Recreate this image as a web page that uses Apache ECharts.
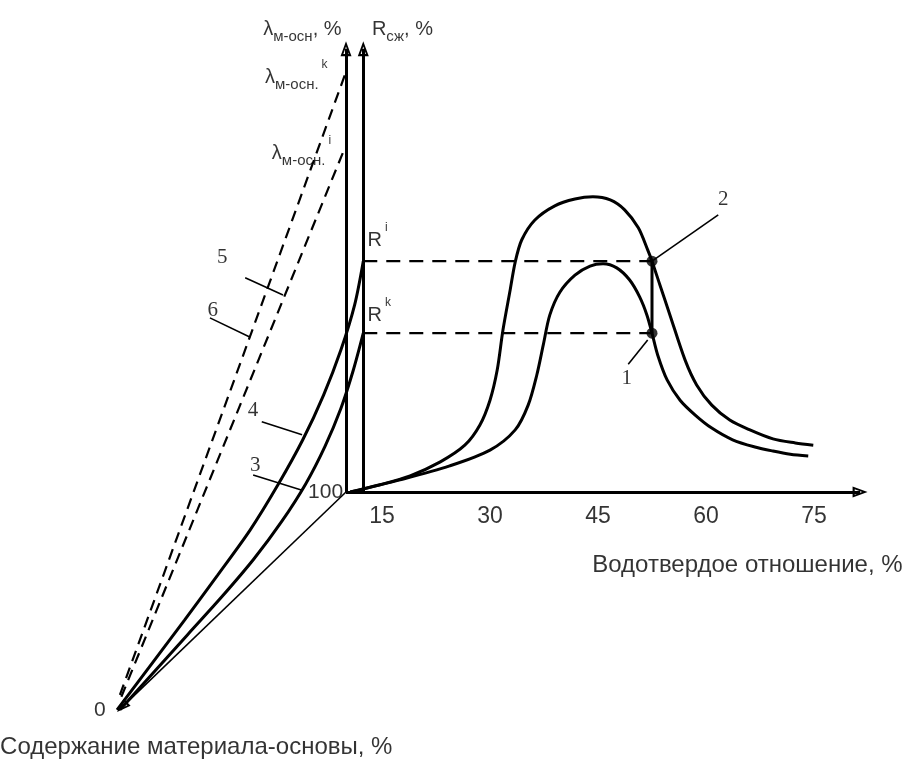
<!DOCTYPE html>
<html>
<head>
<meta charset="utf-8">
<script src="https://cdn.jsdelivr.net/npm/echarts@6/dist/echarts.min.js"></script>
<style>
html, body { margin: 0; padding: 0; background: #fff; }
#chart { width: 905px; height: 760px; }
</style>
</head>
<body>
<div id="chart"></div>
<script>
// подписи оси водотвердого отношения
var ratioTicks = [15, 30, 45, 60, 75];

// кривая 2 (внешняя) : [В/Т, R]
var strengthOuter = [[10.6,0],[14.7,1.6],[18.9,3.6],[23.1,6.7],[26.5,10.4],[28.6,14.9],[30.0,20.4],[31.0,27.1],
    [31.8,36.0],[32.8,44.9],[33.5,51.1],[34.4,56.0],[36.2,60.4],[39.0,63.6],[41.8,65.1],[44.3,65.6],[46.7,64.9],
    [48.7,62.7],[50.6,58.7],[51.9,53.8],[52.5,51.3],[53.6,46.0],[55.0,39.3],[57.1,29.3],[58.7,23.8],[60.8,19.3],
    [63.3,16.0],[66.1,13.8],[69.3,11.8],[72.4,10.9],[74.9,10.4]];
// кривая 1 (внутренняя)
var strengthInner = [[10.6,0],[17.5,2.7],[24.4,5.8],[30.0,9.3],[33.5,13.8],[35.3,19.3],[36.5,26.0],[37.4,32.7],
    [38.3,39.3],[39.7,44.4],[41.8,48.2],[43.9,50.2],[45.7,50.7],[47.6,49.8],[49.4,47.1],[50.8,43.3],[51.8,39.3],
    [52.5,35.3],[53.3,30.4],[54.6,24.9],[56.4,20.4],[58.5,17.1],[60.8,14.2],[63.7,11.6],[66.8,10.0],[69.3,9.1],
    [71.7,8.4],[74.2,8.0]];
// кривые 3 и 4 (содержание материала-основы)
var curve3 = [[-21.4,-48.4],[-12.0,-31.7],[-7.25,-23.3],[-2.8,-14.9],[1.05,-6.6],[4.4,1.8],[7.1,10.2],
    [9.3,18.6],[11.0,27.0],[12.4,35.3]];
var curve4 = [[-21.8,-48.4],[-12.4,-28.4],[-7.8,-18.4],[-3.3,-8.4],[0.55,1.6],[4.0,11.6],[6.9,21.6],
    [9.3,31.6],[11.2,41.6],[12.4,51.3]];
// штриховые прямые 5 и 6
var line5 = [[-21.2,-45.5],[9.9,76.7]];
var line6 = [[-21.4,-45.1],[10.1,93.8]];
// уровни прочности R^i, R^k и точка пересечения
var levelRi = 51.3;
var levelRk = 35.3;
var crossX = 52.5;

var ink = '#000';
var arrowPath = 'path://M5,0L10,14L0,14Z M5,5L2.6,12L7.4,12Z';
var sans = 'Liberation Sans';
var serif = 'Liberation Serif';

function seg(a, b) {
    return [{ coord: a }, { coord: b }];
}

function lbl(x, y, text, pos, extra) {
    var l = {
        show: true,
        position: pos || 'inside',
        distance: 0,
        formatter: text,
        color: '#000',
        fontFamily: sans,
        fontSize: 21
    };
    for (var k in extra) l[k] = extra[k];
    return { value: [x, y], label: l };
}

var richSub = {
    a: { fontFamily: sans, fontSize: 20, color: '#000', lineHeight: 22 },
    r: { fontFamily: sans, fontSize: 20, color: '#000', lineHeight: 22 },
    s: { fontFamily: sans, fontSize: 15, color: '#000', lineHeight: 14, verticalAlign: 'bottom', padding: [0, 0, -4, 0] },
    p: { fontFamily: sans, fontSize: 12, color: '#000', lineHeight: 12, verticalAlign: 'top', padding: [-7, 0, 0, 3] }
};

var chart = echarts.init(document.getElementById('chart'));

var option = {
    backgroundColor: '#fff',
    animation: false,
    grid: {
        left: 22,
        right: 19,
        top: 24,
        bottom: 7,
        containLabel: false,
        outerBoundsMode: 'none'
    },
    xAxis: {
        type: 'value',
        min: -35,
        max: 85,
        show: false
    },
    yAxis: {
        type: 'value',
        min: -58,
        max: 104,
        show: false
    },
    series: [{
        name: 'кривая 2',
        type: 'line',
        smooth: 0.3,
        symbol: 'none',
        lineStyle: { color: ink, width: 3 },
        data: strengthOuter
    }, {
        name: 'кривая 1',
        type: 'line',
        smooth: 0.3,
        symbol: 'none',
        lineStyle: { color: ink, width: 3 },
        data: strengthInner
    }, {
        name: 'кривая 3',
        type: 'line',
        smooth: 0.3,
        symbol: 'none',
        lineStyle: { color: ink, width: 3 },
        data: curve3
    }, {
        name: 'кривая 4',
        type: 'line',
        smooth: 0.3,
        symbol: 'none',
        lineStyle: { color: ink, width: 3 },
        data: curve4
    }, {
        name: 'прямая 5',
        type: 'line',
        symbol: 'none',
        lineStyle: { color: ink, width: 2.2, type: [11, 7] },
        data: line5
    }, {
        name: 'прямая 6',
        type: 'line',
        symbol: 'none',
        lineStyle: { color: ink, width: 2.2, type: [11, 7] },
        data: line6
    }, {
        name: 'Ri',
        type: 'line',
        symbol: 'none',
        lineStyle: { color: ink, width: 2.2, type: [14, 9] },
        data: [[12.4, levelRi], [crossX, levelRi]]
    }, {
        name: 'Rk',
        type: 'line',
        symbol: 'none',
        lineStyle: { color: ink, width: 2.2, type: [14, 9] },
        data: [[12.4, levelRk], [crossX, levelRk]]
    }, {
        name: 'переход',
        type: 'line',
        symbol: 'none',
        lineStyle: { color: ink, width: 3 },
        data: [[crossX, levelRk], [crossX, levelRi]]
    }, {
        name: 'точки',
        type: 'scatter',
        symbolSize: 11,
        itemStyle: { color: ink },
        data: [[crossX, levelRi], [crossX, levelRk]]
    }, {
        // оси со стрелками
        name: 'оси',
        type: 'line',
        symbol: 'none',
        lineStyle: { opacity: 0 },
        data: [[10, 0], [10, 99]],
        markLine: {
            silent: true,
            symbol: ['none', arrowPath],
            symbolSize: [11, 15],
            label: { show: false },
            lineStyle: { color: ink, width: 3, type: 'solid' },
            data: [
                seg([10, 0], [10, 98.5]),
                seg([12.4, 0], [12.4, 98.5]),
                seg([10, 0], [81.4, 0])
            ]
        }
    }, {
        name: 'ось содержания',
        type: 'line',
        symbol: 'none',
        lineStyle: { opacity: 0 },
        data: [[10, 0], [-21.1, -47.8]],
        markLine: {
            silent: true,
            symbol: ['none', arrowPath],
            symbolSize: [10, 14],
            label: { show: false },
            lineStyle: { color: ink, width: 1.6, type: 'solid' },
            data: [seg([10, 0], [-21.1, -47.8])]
        }
    }, {
        // выноски к номерам кривых
        name: 'выноски',
        type: 'line',
        symbol: 'none',
        lineStyle: { opacity: 0 },
        data: [[-4.0, 47.6], [1.25, 43.8]],
        markLine: {
            silent: true,
            symbol: 'none',
            label: { show: false },
            lineStyle: { color: ink, width: 1.6, type: 'solid' },
            data: [
                seg([-4.0, 47.6], [1.25, 43.8]),
                seg([-8.9, 38.7], [-3.3, 34.4]),
                seg([-1.7, 15.6], [3.9, 12.7]),
                seg([-2.9, 3.8], [3.9, 0.4]),
                seg([crossX, levelRi], [61.7, 61.6]),
                seg([51.9, 33.8], [49.2, 28.4])
            ]
        }
    }, {
        // подписи делений оси В/Т
        name: 'деления',
        type: 'scatter',
        symbolSize: 0,
        silent: true,
        data: ratioTicks.map(function(v) { return [v, 0]; }),
        label: {
            show: true,
            position: 'bottom',
            distance: 13,
            formatter: function(p) { return p.value[0]; },
            color: '#000',
            fontFamily: sans,
            fontSize: 23
        }
    }, {
        name: 'подписи',
        type: 'scatter',
        symbolSize: 0,
        clip: false,
        silent: true,
        data: [
            lbl(-1.5, 102.7, '{a|λ}{s|м-осн}{a|, %}', 'right', { rich: richSub }),
            lbl(13.6, 102.7, '{a|R}{s|сж}{a|, %}', 'right', { rich: richSub }),
            lbl(-1.25, 92.2, '{a|λ}{s|м-осн.}{p|k}', 'right', { rich: richSub }),
            lbl(-0.3, 75.3, '{a|λ}{s|м-осн.}{p|i}', 'right', { rich: richSub }),
            lbl(13.0, 56.0, '{r|R}{p|i}', 'right', { rich: richSub }),
            lbl(13.0, 39.3, '{r|R}{p|k}', 'right', { rich: richSub }),
            lbl(9.6, 0, '100', 'left'),
            lbl(-24.2, -48.4, '0'),
            lbl(-7.2, 52.2, '5', 'inside', { fontFamily: serif }),
            lbl(-8.5, 40.4, '6', 'inside', { fontFamily: serif }),
            lbl(-2.9, 18.2, '4', 'inside', { fontFamily: serif }),
            lbl(-2.6, 6.0, '3', 'inside', { fontFamily: serif }),
            lbl(62.4, 64.9, '2', 'inside', { fontFamily: serif }),
            lbl(49.0, 25.3, '1', 'inside', { fontFamily: serif }),
            lbl(44.2, -16.4, 'Водотвердое отношение, %', 'right', { fontSize: 24 }),
            lbl(-10.8, -56.7, 'Содержание материала-основы, %', 'inside', { fontSize: 24 })
        ]
    }]
};

chart.setOption(option);
</script>
</body>
</html>
